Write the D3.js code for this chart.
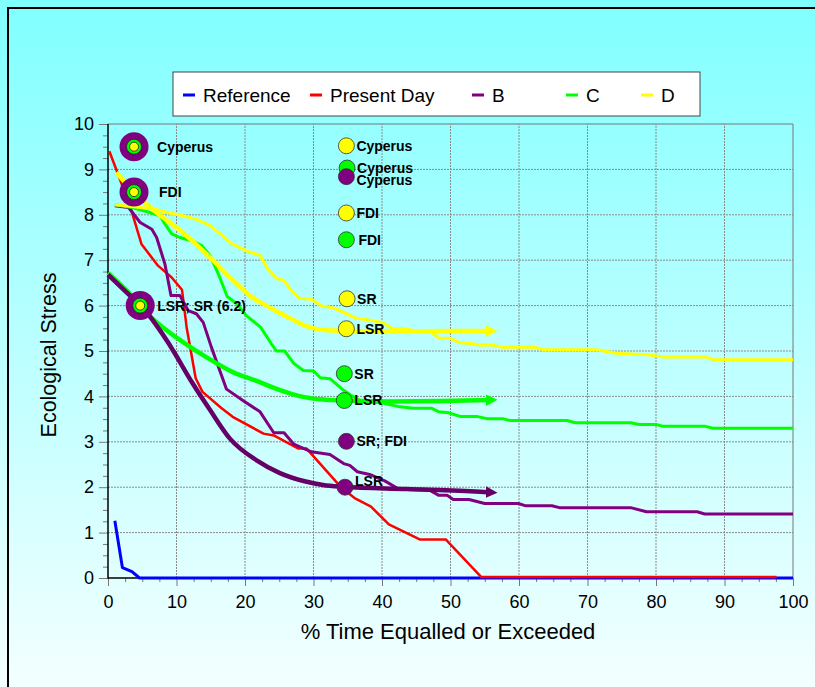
<!DOCTYPE html>
<html>
<head>
<meta charset="utf-8">
<script src="https://cdn.jsdelivr.net/npm/d3@7"></script>
<style>
  body { margin: 0; }
  svg { display: block; font-family: "Liberation Sans", Arial, sans-serif; }
</style>
</head>
<body>
<svg id="chart" width="815" height="687"></svg>
<script>
// duration curves: x = % time equalled or exceeded, y = ecological stress
const refX = [1.0, 2.1, 3.5, 4.6, 100];
const refY = [1.26, 0.23, 0.14, 0, 0];

const presentX = [0.2, 3.2, 4.9, 7.3, 9.3, 10.8, 11.5, 12.8, 13.8, 16.5, 18.2, 22.7, 24.2, 27.8, 29.0, 34.0, 36.0, 38.4, 41.0, 45.5, 49.3, 54.5, 97.6];
const presentY = [9.4, 8.2, 7.35, 6.88, 6.62, 6.35, 5.5, 4.4, 4.1, 3.75, 3.55, 3.18, 3.14, 2.85, 2.85, 2.0, 1.76, 1.57, 1.18, 0.85, 0.85, 0.02, 0.02];

const bX = [1.0, 3.0, 4.7, 6.4, 7.1, 8.3, 9.2, 10.5, 11.7, 12.9, 13.9, 15.1, 17.3, 19.8, 22.2, 24.2, 25.7, 27.1, 29.7, 32.4, 34.4, 35.3, 36.4, 38.2, 40.4, 42.3, 47.0, 48.3, 49.5, 50.4, 52.7, 55.0, 59.9, 61.0, 64.8, 65.9, 76.3, 78.6, 86.0, 87.1, 100];
const bY = [8.2, 8.16, 7.83, 7.68, 7.5, 6.92, 6.22, 6.22, 5.89, 5.82, 5.63, 5.08, 4.16, 3.9, 3.66, 3.2, 3.2, 2.95, 2.78, 2.72, 2.52, 2.48, 2.34, 2.28, 2.14, 1.97, 1.93, 1.82, 1.82, 1.73, 1.73, 1.64, 1.64, 1.59, 1.59, 1.55, 1.55, 1.46, 1.46, 1.41, 1.41];

const cX = [1.0, 3.5, 6.1, 7.6, 8.3, 9.3, 10.5, 12.2, 13.7, 14.9, 16.1, 17.4, 18.8, 20.2, 22.3, 23.8, 24.6, 25.8, 27.1, 28.5, 30.0, 31.0, 32.4, 34.1, 35.3, 36.8, 40.2, 42.3, 44.6, 47.2, 48.3, 49.7, 51.4, 53.8, 55.3, 57.6, 58.7, 67.0, 68.2, 76.3, 77.5, 80.0, 81.1, 87.2, 88.3, 100];
const cY = [8.22, 8.16, 8.05, 7.98, 7.8, 7.58, 7.5, 7.43, 7.32, 7.1, 6.7, 6.2, 6.04, 5.78, 5.52, 5.17, 5.0, 5.0, 4.73, 4.57, 4.56, 4.41, 4.39, 4.17, 4.04, 3.91, 3.85, 3.78, 3.74, 3.74, 3.66, 3.64, 3.56, 3.56, 3.51, 3.51, 3.47, 3.47, 3.42, 3.42, 3.38, 3.38, 3.34, 3.34, 3.3, 3.3];

const dX = [1.0, 4.7, 7.1, 8.6, 11.0, 12.9, 14.9, 16.4, 18.1, 20.5, 22.2, 23.4, 24.6, 25.6, 26.8, 28.0, 29.7, 31.2, 32.7, 34.1, 36.3, 37.8, 40.0, 41.5, 43.6, 45.1, 47.2, 48.3, 50.0, 51.4, 52.8, 54.3, 56.2, 57.5, 62.5, 63.5, 71.3, 72.8, 74.2, 78.6, 81.1, 87.2, 88.4, 100];
const dY = [8.22, 8.16, 8.12, 8.05, 7.98, 7.9, 7.76, 7.58, 7.36, 7.19, 7.11, 6.79, 6.6, 6.56, 6.33, 6.16, 6.14, 5.99, 5.96, 5.87, 5.72, 5.69, 5.63, 5.5, 5.48, 5.44, 5.42, 5.28, 5.28, 5.18, 5.17, 5.13, 5.13, 5.08, 5.08, 5.03, 5.03, 4.99, 4.95, 4.92, 4.87, 4.87, 4.81, 4.81];

// LSR curves (thick, ending in arrows)
const lsrDX = [1.2, 3.5, 5.9, 11.0, 14.9, 18.3, 20.7, 23.6, 26.6, 29.7, 32.9, 40.0, 50.0, 55.5];
const lsrDY = [8.93, 8.55, 8.2, 7.6, 7.06, 6.55, 6.22, 5.96, 5.72, 5.51, 5.45, 5.43, 5.44, 5.44];
const lsrCX = [0, 3.2, 6.1, 8.6, 11.0, 14.4, 18.3, 21.7, 25.1, 28.5, 31.4, 34.4, 41.2, 49.0, 55.5];
const lsrCY = [6.72, 6.26, 5.77, 5.45, 5.19, 4.86, 4.53, 4.34, 4.14, 3.99, 3.93, 3.91, 3.89, 3.9, 3.92];
const lsrBX = [0, 2.7, 5.2, 7.1, 8.8, 9.5, 12.3, 14.9, 17.8, 21.7, 25.1, 28.7, 31.4, 34.4, 43.6, 54.3, 55.5];
const lsrBY = [6.68, 6.29, 5.93, 5.56, 5.18, 5.01, 4.3, 3.7, 3.07, 2.59, 2.31, 2.13, 2.05, 2.01, 1.96, 1.9, 1.89];

// annotated points
const bigX = [3.8, 3.8, 4.7];
const bigY = [9.5, 8.5, 6.0];
const bigLabels = ['Cyperus', 'FDI', 'LSR; SR (6.2)'];

const midX = [34.8, 34.9, 34.8, 34.8, 34.8, 34.9, 34.8, 34.5, 34.5, 34.8, 34.6];
const midY = [9.52, 9.03, 8.84, 8.04, 7.45, 6.15, 5.49, 4.5, 3.91, 3.01, 2.0];
const midSeries = ['D', 'C', 'B', 'D', 'C', 'D', 'D', 'C', 'C', 'B', 'B'];
const midLabels = ['Cyperus', 'Cyperus', 'Cyperus', 'FDI', 'FDI', 'SR', 'LSR', 'SR', 'LSR', 'SR; FDI', 'LSR'];

const legendNames = ['Reference', 'Present Day', 'B', 'C', 'D'];

const colors = { Reference: '#0000ff', 'Present Day': '#ff0000', B: '#800080', C: '#00ff00', D: '#ffff00' };

const svg = d3.select('#chart');

// background
const defs = svg.append('defs');
const bg = defs.append('linearGradient')
  .attr('id', 'bg')
  .attr('x1', 0).attr('y1', 0).attr('x2', 0).attr('y2', 1);
bg.append('stop').attr('offset', '0%').attr('stop-color', '#80ffff');
bg.append('stop').attr('offset', '100%').attr('stop-color', '#f4ffff');

svg.append('rect')
  .attr('width', 815).attr('height', 687)
  .attr('fill', 'url(#bg)');

svg.append('rect')
  .attr('x', 8).attr('y', 8)
  .attr('width', 830).attr('height', 700)
  .attr('fill', 'none')
  .attr('stroke', '#000')
  .attr('stroke-width', 2);

const x = d3.scaleLinear().domain([0, 100]).range([108, 793]);
const y = d3.scaleLinear().domain([0, 10]).range([578, 124]);

// grid
svg.append('g')
  .selectAll('line')
  .data(d3.range(10, 100, 10))
  .enter()
  .append('line')
  .attr('x1', d => x(d)).attr('x2', d => x(d))
  .attr('y1', y(0)).attr('y2', y(10))
  .style('stroke', '#8a8a8a')
  .style('stroke-dasharray', '2,1');

svg.append('g')
  .selectAll('line')
  .data(d3.range(1, 10))
  .enter()
  .append('line')
  .attr('x1', x(0)).attr('x2', x(100))
  .attr('y1', d => y(d)).attr('y2', d => y(d))
  .style('stroke', '#8a8a8a')
  .style('stroke-dasharray', '2,1');

// plot frame top/right
svg.append('path')
  .attr('d', `M${x(0)},${y(10)}H${x(100)}V${y(0)}`)
  .attr('fill', 'none')
  .style('stroke', '#777');

// axes
const xAxis = svg.append('g')
  .attr('transform', `translate(0,${y(0)})`)
  .call(d3.axisBottom(x).tickValues(d3.range(0, 101, 2.5)).tickSize(4).tickFormat(''));
xAxis.selectAll('.tick line')
  .attr('y2', d => d % 10 === 0 ? 8 : 4)
  .style('stroke', '#777');
xAxis.select('.domain').remove();

const xLabels = svg.append('g')
  .attr('transform', `translate(0,${y(0)})`)
  .call(d3.axisBottom(x).tickValues(d3.range(0, 101, 10)).tickSize(0).tickPadding(17));
xLabels.select('.domain').remove();
xLabels.selectAll('text').style('font-size', '18px').style('fill', '#000');

const yAxis = svg.append('g')
  .attr('transform', `translate(${x(0)},0)`)
  .call(d3.axisLeft(y).tickValues(d3.range(0, 10.01, 0.25)).tickSize(4).tickFormat(''));
yAxis.selectAll('.tick line')
  .attr('x2', d => Number.isInteger(d) ? -9 : -5)
  .style('stroke', '#777');
yAxis.select('.domain').remove();

const yLabels = svg.append('g')
  .attr('transform', `translate(${x(0)},0)`)
  .call(d3.axisLeft(y).tickValues(d3.range(0, 11)).tickSize(0).tickPadding(14));
yLabels.select('.domain').remove();
yLabels.selectAll('text').style('font-size', '18px').style('fill', '#000');

svg.append('path')
  .attr('d', `M${x(0)},${y(10)}V${y(0)}H${x(100)}`)
  .attr('fill', 'none')
  .style('stroke', '#000')
  .style('stroke-width', 1.5);

svg.append('text')
  .attr('x', 448).attr('y', 639)
  .attr('text-anchor', 'middle')
  .style('font-size', '22px')
  .text('% Time Equalled or Exceeded');

svg.append('text')
  .attr('transform', 'translate(56,355) rotate(-90)')
  .attr('text-anchor', 'middle')
  .style('font-size', '21.5px')
  .text('Ecological Stress');

// series lines
const line = d3.line().x(d => x(d[0])).y(d => y(d[1]));
const pairs = (xs, ys) => xs.map((v, i) => [v, ys[i]]);

const thin = [
  { name: 'Reference', pts: pairs(refX, refY), w: 3 },
  { name: 'Present Day', pts: pairs(presentX, presentY), w: 2.5 },
  { name: 'B', pts: pairs(bX, bY), w: 3 },
  { name: 'C', pts: pairs(cX, cY), w: 3 },
  { name: 'D', pts: pairs(dX, dY), w: 3 }
];

// blue first, red on top of it, then scenarios
svg.append('g')
  .selectAll('path')
  .data(thin)
  .enter()
  .append('path')
  .attr('d', d => line(d.pts))
  .attr('fill', 'none')
  .style('stroke', d => colors[d.name])
  .style('stroke-width', d => d.w)
  .style('stroke-linejoin', 'round');

// LSR curves with arrowheads
const thick = [
  { id: 'D', pts: pairs(lsrDX, lsrDY), color: '#ffff00' },
  { id: 'C', pts: pairs(lsrCX, lsrCY), color: '#00ff00' },
  { id: 'B', pts: pairs(lsrBX, lsrBY), color: '#660066' }
];

thick.forEach(t => {
  defs.append('marker')
    .attr('id', 'arrow' + t.id)
    .attr('viewBox', '0 0 10 10')
    .attr('refX', 2).attr('refY', 5)
    .attr('markerWidth', 2.6).attr('markerHeight', 2.6)
    .attr('orient', 'auto')
    .append('path')
    .attr('d', 'M0,0L10,5L0,10Z')
    .attr('fill', t.color);
});

const smooth = d3.line().x(d => x(d[0])).y(d => y(d[1])).curve(d3.curveMonotoneX);

svg.append('g')
  .selectAll('path')
  .data(thick)
  .enter()
  .append('path')
  .attr('d', d => smooth(d.pts))
  .attr('fill', 'none')
  .style('stroke', d => d.color)
  .style('stroke-width', 4.5)
  .attr('marker-end', d => `url(#arrow${d.id})`);

// big target markers on the left
const big = svg.append('g')
  .selectAll('g')
  .data(bigX.map((v, i) => ({ x: v, y: bigY[i], label: bigLabels[i] })))
  .enter()
  .append('g')
  .attr('transform', d => `translate(${x(d.x)},${y(d.y)})`);

big.append('circle').attr('r', 14.5).style('fill', '#800080');
big.append('circle').attr('r', 7.5).style('fill', '#00ff00').style('stroke', '#222').style('stroke-width', 0.8);
big.append('circle').attr('r', 4.5).style('fill', '#ffff00').style('stroke', '#222').style('stroke-width', 0.8);

big.append('text')
  .attr('x', (d, i) => [23, 25, 17][i])
  .attr('dy', '0.35em')
  .style('font-size', '14px')
  .style('font-weight', 'bold')
  .text(d => d.label);

// scenario markers in the middle
const mid = svg.append('g')
  .selectAll('g')
  .data(midX.map((v, i) => ({ x: v, y: midY[i], s: midSeries[i], label: midLabels[i] })))
  .enter()
  .append('g')
  .attr('transform', d => `translate(${x(d.x)},${y(d.y)})`);

mid.append('circle')
  .attr('r', 8)
  .style('fill', d => colors[d.s])
  .style('stroke', '#333')
  .style('stroke-width', 0.8);

mid.append('text')
  .attr('x', (d, i) => i === 4 ? 12 : 10)
  .attr('y', (d, i) => i === 2 ? 3 : i === 10 ? -6 : 0)
  .attr('dy', '0.35em')
  .style('font-size', '14px')
  .style('font-weight', 'bold')
  .text(d => d.label);

// legend
const legend = svg.append('g').attr('transform', 'translate(173,72)');
legend.append('rect')
  .attr('width', 527).attr('height', 44)
  .style('fill', '#fff')
  .style('stroke', '#444');

const legendX = [10, 137, 299, 393, 468];
const items = legend.selectAll('g')
  .data(legendNames)
  .enter()
  .append('g')
  .attr('transform', (d, i) => `translate(${legendX[i]},23)`);

items.append('line')
  .attr('x1', 0).attr('x2', 12)
  .style('stroke', d => colors[d])
  .style('stroke-width', 3);

items.append('text')
  .attr('x', 20)
  .attr('dy', '0.35em')
  .style('font-size', '19px')
  .text(d => d);
</script>
</body>
</html>
